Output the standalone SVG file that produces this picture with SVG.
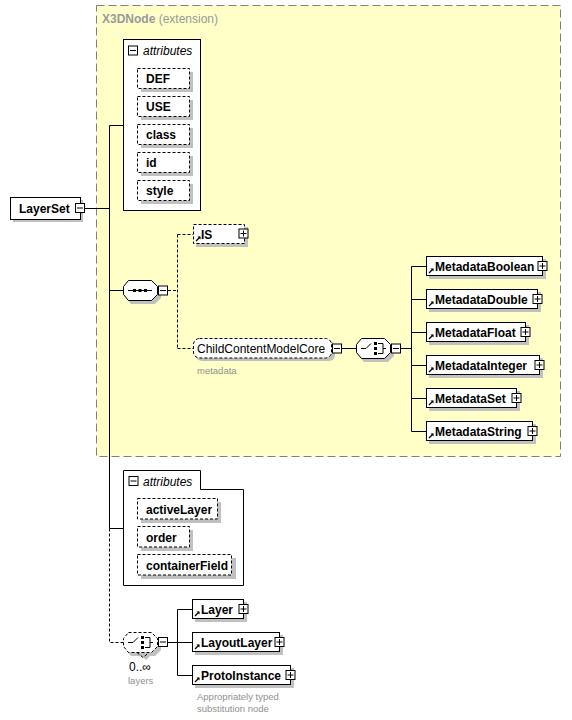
<svg xmlns="http://www.w3.org/2000/svg" width="572" height="720" viewBox="0 0 572 720">
<defs>
<style>
.bg{fill:#ffffff}
.grp{fill:#ffffc8;stroke:#808080;stroke-width:1;stroke-dasharray:8,4}
.box{fill:#ffffff;stroke:#000000;stroke-width:1}
.dbox{fill:#ffffff;stroke:#000000;stroke-width:1;stroke-dasharray:3,2}
.sh{fill:#c0c0c0}
.ln{fill:none;stroke:#000000;stroke-width:1}
.dl{fill:none;stroke:#000000;stroke-width:1;stroke-dasharray:3,2}
.b{font-family:"Liberation Sans",Arial,sans-serif;font-size:12px;font-weight:bold;fill:#000000}
.r{font-family:"Liberation Sans",Arial,sans-serif;font-size:12px;fill:#000000}
.it{font-family:"Liberation Sans",Arial,sans-serif;font-size:12px;font-style:italic;fill:#000000}
.g{font-family:"Liberation Sans",Arial,sans-serif;font-size:9.5px;fill:#909090}
.hd{font-family:"Liberation Sans",Arial,sans-serif;font-size:12px;fill:#9a9a9a}
.pm{fill:#ffffff;stroke:#000000;stroke-width:1}
</style>
<g id="plus">
<rect class="pm" x="-4.5" y="-4.5" width="9" height="9"/>
<path class="ln" d="M-3,0H3M0,-3V3"/>
</g>
<g id="minus">
<rect class="pm" x="-4.5" y="-4.5" width="9" height="9"/>
<path class="ln" d="M-3,0H3"/>
</g>
<g id="ref">
<path d="M0,0L4,-4" stroke="#000" stroke-width="1.2" fill="none"/>
<path d="M1.5,-4.5H4.5V-1.5Z" fill="#000"/>
</g>
</defs>
<rect class="bg" x="0" y="0" width="572" height="720"/>

<g id="X3DNode">
<rect class="grp" x="96.5" y="5.5" width="464" height="451"/>
<text x="102" y="23" class="hd"><tspan font-weight="bold">X3DNode</tspan> (extension)</text>
</g>

<g id="connectors">
<path class="ln" d="M85,208.5H109.5M109.5,125.5V528.5M109.5,125.5H123M109.5,290.5H123M109.5,528.5H123"/>
<path class="dl" d="M109.5,528.5V642.5H123"/>
<path class="dl" d="M168,290.5H177.5M177.5,234.5V348.5M177.5,234.5H193M177.5,348.5H193"/>
<path class="ln" d="M342,348.5H356M401,348.5H411.5M411.5,266.5V431.5M411.5,266.5H426M411.5,299.5H426M411.5,332.5H426M411.5,365.5H426M411.5,398.5H426M411.5,431.5H426"/>
<path class="ln" d="M168,642.5H177.5M177.5,609.5V675.5M177.5,609.5H192M177.5,642.5H192M177.5,675.5H192"/>
</g>

<g id="LayerSet">
<rect class="sh" x="13" y="200" width="70" height="22"/>
<rect class="box" x="10.5" y="197.5" width="70" height="22"/>
<text x="19" y="213" class="b">LayerSet</text>
<use href="#minus" x="80" y="208"/>
</g>

<g id="attributes1">
<rect class="box" x="123.5" y="39.5" width="77" height="171"/>
<use href="#minus" x="133" y="50.5"/>
<text x="143" y="54.5" class="it">attributes</text>
</g>
<g id="DEF">
<rect class="sh" x="141" y="72" width="52" height="20"/>
<rect class="dbox" x="137.5" y="68.5" width="52" height="20"/>
<text x="146" y="83" class="b">DEF</text>
</g>
<g id="USE">
<rect class="sh" x="141" y="100" width="52" height="20"/>
<rect class="dbox" x="137.5" y="96.5" width="52" height="20"/>
<text x="146" y="111" class="b">USE</text>
</g>
<g id="class">
<rect class="sh" x="141" y="128" width="52" height="20"/>
<rect class="dbox" x="137.5" y="124.5" width="52" height="20"/>
<text x="146" y="139" class="b">class</text>
</g>
<g id="id">
<rect class="sh" x="141" y="156" width="52" height="20"/>
<rect class="dbox" x="137.5" y="152.5" width="52" height="20"/>
<text x="146" y="167" class="b">id</text>
</g>
<g id="style">
<rect class="sh" x="141" y="184" width="52" height="20"/>
<rect class="dbox" x="137.5" y="180.5" width="52" height="20"/>
<text x="146" y="195" class="b">style</text>
</g>

<g id="sequence">
<path class="sh" d="M131,284H155L161,290V298L155,304H131L126,298V290Z"/>
<path class="box" d="M128.5,280.5H151.5L157.5,286.5V294.5L151.5,300.5H128.5L123.5,294.5V286.5Z"/>
<path class="ln" d="M128,290.5H152"/>
<rect x="133" y="289" width="3" height="3" fill="#000"/>
<rect x="138.5" y="289" width="3" height="3" fill="#000"/>
<rect x="144" y="289" width="3" height="3" fill="#000"/>
<use href="#minus" x="163" y="290.5"/>
</g>

<g id="IS">
<rect class="sh" x="196" y="227" width="52" height="20"/>
<rect class="dbox" x="193.5" y="224.5" width="51" height="19"/>
<use href="#ref" x="196" y="241"/>
<text x="201" y="239" class="b">IS</text>
<use href="#plus" x="243.5" y="233.5"/>
</g>

<g id="ChildContentModelCore">
<rect class="sh" x="196" y="341" width="139" height="20" rx="6"/>
<rect class="dbox" x="193.5" y="338.5" width="138" height="19.5" rx="6"/>
<text x="197" y="353" class="r">ChildContentModelCore</text>
<text x="197" y="373.5" class="g">metadata</text>
<use href="#minus" x="337" y="348.5"/>
</g>

<g id="choice1">
<path class="sh" d="M364,342H388L394,348V356L388,362H364L359,356V348Z"/>
<path class="box" d="M361.5,338.5H384.5L390.5,344.5V352.5L384.5,358.5H361.5L356.5,352.5V344.5Z"/>
<path class="ln" d="M361,348.5H366L371,343.5"/>
<rect x="374" y="342" width="3" height="3" fill="#000"/>
<rect x="374" y="347" width="3" height="3" fill="#000"/>
<rect x="374" y="352" width="3" height="3" fill="#000"/>
<path class="ln" d="M378,343.5H383V353.5H378M383,348.5H386"/>
<use href="#minus" x="396" y="348.5"/>
</g>

<g id="MetadataBoolean">
<rect class="sh" x="429" y="259" width="117" height="20"/>
<rect class="box" x="426.5" y="256.5" width="116" height="19"/>
<use href="#ref" x="429" y="273"/>
<text x="435" y="271" class="b">MetadataBoolean</text>
<use href="#plus" x="542.5" y="266"/>
</g>
<g id="MetadataDouble">
<rect class="sh" x="429" y="292" width="112" height="20"/>
<rect class="box" x="426.5" y="289.5" width="111" height="19"/>
<use href="#ref" x="429" y="306"/>
<text x="435" y="304" class="b">MetadataDouble</text>
<use href="#plus" x="537.5" y="299"/>
</g>
<g id="MetadataFloat">
<rect class="sh" x="429" y="325" width="100" height="20"/>
<rect class="box" x="426.5" y="322.5" width="99" height="19"/>
<use href="#ref" x="429" y="339"/>
<text x="435" y="337" class="b">MetadataFloat</text>
<use href="#plus" x="525.5" y="332"/>
</g>
<g id="MetadataInteger">
<rect class="sh" x="429" y="358" width="114" height="20"/>
<rect class="box" x="426.5" y="355.5" width="113" height="19"/>
<use href="#ref" x="429" y="372"/>
<text x="435" y="370" class="b">MetadataInteger</text>
<use href="#plus" x="539.5" y="365"/>
</g>
<g id="MetadataSet">
<rect class="sh" x="429" y="391" width="91" height="20"/>
<rect class="box" x="426.5" y="388.5" width="90" height="19"/>
<use href="#ref" x="429" y="405"/>
<text x="435" y="403" class="b">MetadataSet</text>
<use href="#plus" x="516.5" y="398"/>
</g>
<g id="MetadataString">
<rect class="sh" x="429" y="424" width="107" height="20"/>
<rect class="box" x="426.5" y="421.5" width="106" height="19"/>
<use href="#ref" x="429" y="438"/>
<text x="435" y="436" class="b">MetadataString</text>
<use href="#plus" x="532.5" y="431"/>
</g>

<g id="attributes2">
<path class="box" d="M123.5,470.5H200.5V489.5H243.5V585.5H123.5Z"/>
<use href="#minus" x="133.5" y="481"/>
<text x="143" y="485.5" class="it">attributes</text>
</g>
<g id="activeLayer">
<rect class="sh" x="141" y="502" width="80" height="21"/>
<rect class="dbox" x="137.5" y="498.5" width="80" height="20.5"/>
<text x="146" y="514" class="b">activeLayer</text>
</g>
<g id="order">
<rect class="sh" x="141" y="530" width="52" height="21"/>
<rect class="dbox" x="137.5" y="526.5" width="52" height="20.5"/>
<text x="146" y="542" class="b">order</text>
</g>
<g id="containerField">
<rect class="sh" x="141" y="558" width="95" height="21"/>
<rect class="dbox" x="137.5" y="554.5" width="94" height="20.5"/>
<text x="146" y="570" class="b">containerField</text>
</g>

<g id="choice2">
<path class="sh" d="M131,636H155L161,642V650L155,656H150L146,660L142,656H131L126,650V642Z"/>
<path class="dbox" d="M128.5,632.5H151.5L157.5,638.5V646.5L151.5,652.5H128.5L123.5,646.5V638.5Z"/>
<path class="dl" d="M137,652.5L143,657.5L149,652.5"/>
<path class="ln" d="M128,642.5H133L138,637.5"/>
<rect x="141" y="636" width="3" height="3" fill="#000"/>
<rect x="141" y="641" width="3" height="3" fill="#000"/>
<rect x="141" y="646" width="3" height="3" fill="#000"/>
<path class="ln" d="M145,637.5H150V647.5H145M150,642.5H153"/>
<use href="#minus" x="163" y="642"/>
<text x="129" y="671" class="r" fill="#202030">0..∞</text>
<text x="128" y="684" class="g">layers</text>
</g>

<g id="Layer">
<rect class="sh" x="195" y="602" width="52" height="20"/>
<rect class="box" x="192.5" y="599.5" width="51" height="19"/>
<use href="#ref" x="195" y="616"/>
<text x="201" y="614" class="b">Layer</text>
<use href="#plus" x="243.5" y="609"/>
</g>
<g id="LayoutLayer">
<rect class="sh" x="195" y="635" width="88" height="20"/>
<rect class="box" x="192.5" y="632.5" width="87" height="19"/>
<use href="#ref" x="195" y="649"/>
<text x="201" y="647" class="b">LayoutLayer</text>
<use href="#plus" x="279.5" y="642"/>
</g>
<g id="ProtoInstance">
<rect class="sh" x="195" y="668" width="99" height="20"/>
<rect class="box" x="192.5" y="665.5" width="98" height="19"/>
<use href="#ref" x="195" y="682"/>
<text x="201" y="680" class="b">ProtoInstance</text>
<use href="#plus" x="290.5" y="675"/>
<text x="197" y="700" class="g">Appropriately typed</text>
<text x="197" y="712" class="g">substitution node</text>
</g>
</svg>
